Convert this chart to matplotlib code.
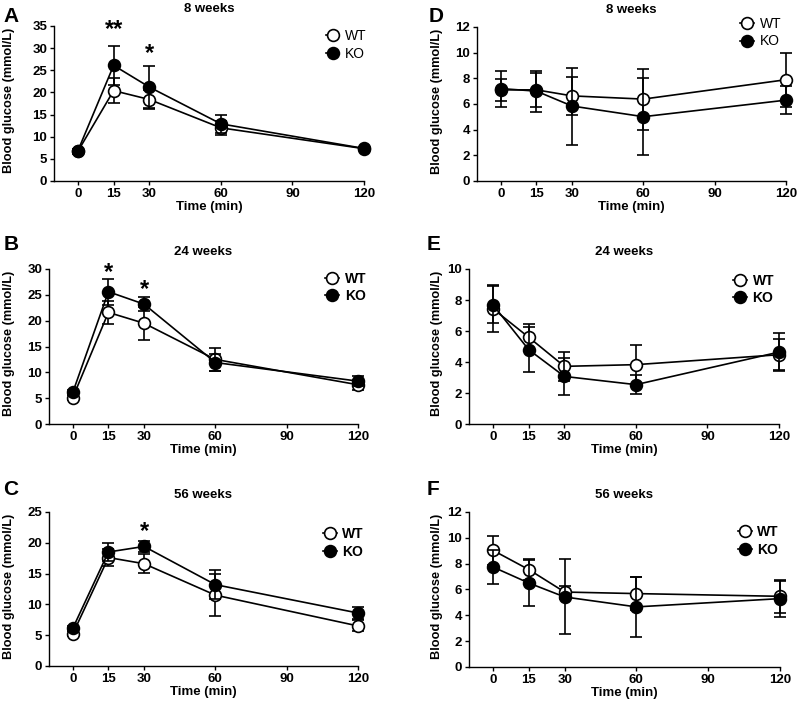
import matplotlib
matplotlib.use("Agg")
import matplotlib.pyplot as plt
from matplotlib.lines import Line2D

plt.rcParams["font.family"] = ["Liberation Sans", "DejaVu Sans"]

############################################################
# Data
############################################################

times = [0, 15, 30, 60, 120]
xticks = [0, 15, 30, 60, 90, 120]

# A - IPGTT 8 weeks
A_wt = [6.7, 20.4, 18.4, 12.0, 7.3]
A_wt_err = [0.5, 2.8, 2.1, 1.6, 0.4]
A_ko = [6.8, 26.1, 21.2, 12.9, 7.35]
A_ko_err = [0.5, 4.4, 4.7, 2.1, 0.4]

# B - 24 weeks
B_wt = [5.1, 21.6, 19.5, 12.5, 7.6]
B_wt_err = [0.5, 2.3, 3.2, 2.3, 1.0]
B_ko = [6.1, 25.6, 23.2, 11.9, 8.3]
B_ko_err = [0.5, 2.5, 1.4, 1.6, 0.9]

# C - 56 weeks
C_wt = [5.2, 17.6, 16.6, 11.5, 6.5]
C_wt_err = [0.4, 1.4, 1.5, 3.35, 0.9]
C_ko = [6.1, 18.5, 19.4, 13.2, 8.6]
C_ko_err = [0.4, 1.5, 0.9, 2.3, 1.0]

# D - ITT 8 weeks
D_wt = [7.1, 7.1, 6.63, 6.38, 7.89]
D_wt_err = [0.85, 1.3, 1.45, 2.38, 2.1]
D_ko = [7.2, 7.0, 5.84, 5.01, 6.3]
D_ko_err = [1.4, 1.6, 3.0, 3.0, 1.1]

# E - 24 weeks
E_wt = [7.44, 5.6, 3.72, 3.83, 4.47]
E_wt_err = [1.5, 0.85, 0.92, 1.27, 1.0]
E_ko = [7.7, 4.8, 3.07, 2.54, 4.64]
E_ko_err = [1.2, 1.45, 1.2, 0.6, 1.2]

# F - 56 weeks
F_wt = [9.03, 7.54, 5.8, 5.68, 5.47]
F_wt_err = [1.1, 0.8, 0.5, 1.25, 1.3]
F_ko = [7.74, 6.5, 5.42, 4.65, 5.29]
F_ko_err = [1.3, 1.8, 2.9, 2.3, 1.4]

# significance marks
A_star_t = [15, 30]
A_star_txt = ["**", "*"]
A_star_y = [34.2, 28.7]
B_star_t = [15, 30]
B_star_txt = ["*", "*"]
B_star_y = [29.3, 26.1]
C_star_t = [30]
C_star_txt = ["*"]
C_star_y = [21.8]

############################################################
# Panels
############################################################

FIG_W = 799

fig = plt.figure(figsize=(7.99, 7.04), dpi=100)

panels = [
    # letter, title, rect, wt, wt_err, ko, ko_err, ymax, ystep,
    # legend anchor, bold legend, stars, letter position, ylabel x (px)
    ("A", "8 weeks", [0.0676, 0.7429, 0.388, 0.2202], A_wt, A_wt_err, A_ko, A_ko_err,
     35, 5, (0.876, 0.98), False, (A_star_t, A_star_txt, A_star_y), (0.004, 0.9688), 15),
    ("B", "24 weeks", [0.0613, 0.3977, 0.3867, 0.2202], B_wt, B_wt_err, B_ko, B_ko_err,
     30, 5, (0.894, 0.982), True, (B_star_t, B_star_txt, B_star_y), (0.004, 0.6449), 15),
    ("C", "56 weeks", [0.0613, 0.0540, 0.3867, 0.2188], C_wt, C_wt_err, C_ko, C_ko_err,
     25, 5, (0.887, 0.90), True, (C_star_t, C_star_txt, C_star_y), (0.004, 0.2969), 15),
    ("D", "8 weeks", [0.597, 0.7429, 0.3867, 0.2188], D_wt, D_wt_err, D_ko, D_ko_err,
     12, 2, (0.852, 1.065), False, None, (0.536, 0.9688), 443),
    ("E", "24 weeks", [0.587, 0.3977, 0.388, 0.2202], E_wt, E_wt_err, E_ko, E_ko_err,
     10, 2, (0.852, 0.97), True, None, (0.534, 0.6449), 443),
    ("F", "56 weeks", [0.587, 0.0526, 0.389, 0.2202], F_wt, F_wt_err, F_ko, F_ko_err,
     12, 2, (0.865, 0.915), True, None, (0.534, 0.2969), 443),
]

legend_handles = [
    Line2D([], [], color="black", lw=1.2, marker="o", markersize=8.5,
           markerfacecolor="white", markeredgecolor="black", markeredgewidth=1.2),
    Line2D([], [], color="black", lw=1.2, marker="o", markersize=8.5,
           markerfacecolor="black", markeredgecolor="black", markeredgewidth=1.2),
]

for (letter, title, rect, wt, wt_err, ko, ko_err, ymax, ystep,
     anchor, bold_leg, stars, letter_pos, ylab_px) in panels:

    ax = fig.add_axes(rect)

    ax.errorbar(times, wt, yerr=wt_err, color="black", lw=1.2, capsize=4,
                capthick=1.2, elinewidth=1.2, marker="o", markersize=8.5,
                markerfacecolor="white", markeredgecolor="black",
                markeredgewidth=1.2, zorder=3, clip_on=False)

    ax.errorbar(times, ko, yerr=ko_err, color="black", lw=1.2, capsize=4,
                capthick=1.2, elinewidth=1.2, marker="o", markersize=8.5,
                markerfacecolor="black", markeredgecolor="black",
                markeredgewidth=1.2, zorder=4, clip_on=False)

    ax.set_xlim(-10, 120)
    ax.set_ylim(0, ymax)
    ax.set_xticks(xticks)
    ax.set_yticks(range(0, ymax + 1, ystep))

    ax.spines["top"].set_visible(False)
    ax.spines["right"].set_visible(False)
    ax.spines["left"].set_linewidth(1.0)
    ax.spines["bottom"].set_linewidth(1.0)

    ax.tick_params(length=3, width=1.0, pad=2, labelsize=9.5)
    for lab in ax.get_xticklabels() + ax.get_yticklabels():
        lab.set_fontweight("bold")

    ax.set_xlabel("Time (min)", fontsize=9.5, fontweight="bold", labelpad=1)
    ax.set_ylabel("Blood glucose (mmol/L)", fontsize=9.2, fontweight="bold")
    ax.yaxis.set_label_coords((ylab_px / FIG_W - rect[0]) / rect[2], 0.52)
    ax.set_title(title, fontsize=9.5, fontweight="bold", pad=10)

    ax.legend(legend_handles, ["WT", "KO"], loc="upper left", bbox_to_anchor=anchor,
              frameon=False, handlelength=1.0, handletextpad=0.4, labelspacing=0.25,
              borderpad=0, borderaxespad=0,
              prop={"size": 10, "weight": "bold" if bold_leg else "normal"})

    fig.text(letter_pos[0], letter_pos[1], letter, fontsize=15,
             fontweight="bold", ha="left", va="baseline")

    if stars is not None:
        for t, txt, y in zip(*stars):
            ax.text(t, y, txt, ha="center", va="center", fontsize=17,
                    fontweight="bold")

plt.savefig("out.png", dpi=100)
